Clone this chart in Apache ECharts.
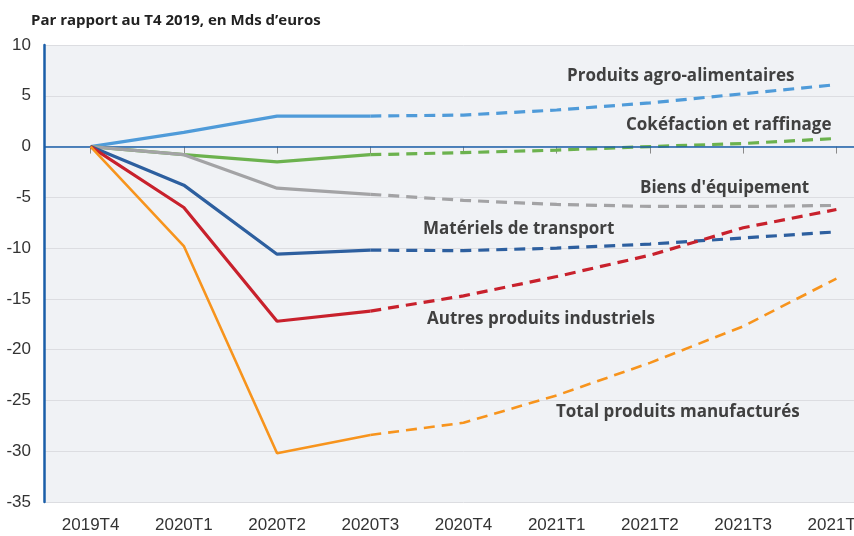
<!DOCTYPE html>
<html><head><meta charset="utf-8">
<script src="https://cdn.jsdelivr.net/npm/echarts@6/dist/echarts.min.js"></script>
<style>html,body{margin:0;padding:0;background:#fff;overflow:hidden;width:854px;height:536px}#c{width:883px;height:536px}</style>
</head><body><div id="c"></div>
<script>
// ---- data ----
const categories = ['2019T4','2020T1','2020T2','2020T3','2020T4','2021T1','2021T2','2021T3','2021T4'];
const yTicks = [10,5,0,-5,-10,-15,-20,-25,-30,-35];
const lastObserved = 3; // index of 2020T3: solid up to here, dashed after
const seriesNames = ['Produits agro-alimentaires','Cokéfaction et raffinage','Biens d\'équipement','Matériels de transport','Autres produits industriels','Total produits manufacturés'];
const agro      = [0, 1.4, 3.0, 3.0, 3.1, 3.6, 4.3, 5.2, 6.1];
const coke      = [0, -0.8, -1.5, -0.8, -0.6, -0.35, 0.0, 0.3, 0.8];
const biens     = [0, -0.8, -4.1, -4.7, -5.3, -5.7, -5.9, -5.9, -5.8];
const transport = [0, -3.8, -10.6, -10.2, -10.25, -10.0, -9.6, -9.0, -8.4];
const autres    = [0, -6.0, -17.2, -16.2, -14.7, -12.8, -10.7, -8.0, -6.2];
const total     = [0, -9.8, -30.2, -28.4, -27.2, -24.5, -21.3, -17.7, -13.0];

const values = [agro, coke, biens, transport, autres, total];
const colors = ['#4f9bd9','#6cb24e','#a3a3a5','#2d5f9f','#c8212c','#f7941d'];
const widths = [3.2,3.2,3.2,3.2,3.2,2.6];

const series = [];
values.forEach((v, i) => {
  series.push({
    name: seriesNames[i], type: 'line', symbol: 'none', z: 3 + i,
    data: v.map((d, k) => k <= lastObserved ? d : null),
    lineStyle: { color: colors[i], width: widths[i] }
  });
  series.push({
    name: seriesNames[i] + ' (prévision)', type: 'line', symbol: 'none', z: 3 + i,
    data: v.map((d, k) => k >= lastObserved ? d : null),
    lineStyle: { color: colors[i], width: widths[i], type: [11, 7] }
  });
});
series[0].markLine = {
  silent: true, symbol: 'none', label: { show: false },
  lineStyle: { color: '#1a5ea8', width: 1.6, type: 'solid' },
  data: [{ yAxis: 0 }]
};
series[0].z = 2;

const labelFont = { fontFamily: 'Open Sans', fontWeight: 'bold', fontSize: 17, fill: '#404040', verticalAlign: 'middle', align: 'left' };
const labels = [
  { text: seriesNames[0], x: 567, y: 76 },
  { text: seriesNames[1], x: 626, y: 125 },
  { text: seriesNames[2], x: 640, y: 188 },
  { text: seriesNames[3], x: 423, y: 229 },
  { text: seriesNames[4], x: 427, y: 319 },
  { text: seriesNames[5], x: 556, y: 412 }
];

const chart = echarts.init(document.getElementById('c'));
chart.setOption({
  animation: false,
  backgroundColor: '#ffffff',
  title: {
    text: 'Par rapport au T4 2019, en Mds d’euros', left: 26, top: 8,
    textStyle: { fontFamily: 'Open Sans', fontWeight: 'bold', fontSize: 15, color: '#222' }
  },
  grid: { left: 44, top: 45, right: 0, bottom: 34, show: true, backgroundColor: '#f0f2f5', borderWidth: 0 },
  xAxis: {
    type: 'category', data: categories, boundaryGap: true,
    axisLine: { show: false },
    axisTick: { show: true, alignWithLabel: true, length: 7, lineStyle: { color: '#8a8a8a' } },
    axisLabel: { margin: 15, fontFamily: 'Liberation Sans', fontSize: 17, color: '#333' },
    splitLine: { show: false }
  },
  yAxis: {
    type: 'value', min: yTicks[yTicks.length - 1], max: yTicks[0], interval: 5,
    axisLine: { show: true, lineStyle: { color: '#1a5ea8', width: 2.5 } },
    axisTick: { show: false },
    axisLabel: { margin: 13, fontFamily: 'Liberation Sans', fontSize: 17, color: '#333' },
    splitLine: { show: true, lineStyle: { color: '#dcdde1', width: 1 } }
  },
  series: series,
  graphic: labels.map(l => ({
    type: 'text', x: l.x, y: l.y, z: 100,
    style: Object.assign({ text: l.text }, labelFont)
  }))
});
</script></body></html>
